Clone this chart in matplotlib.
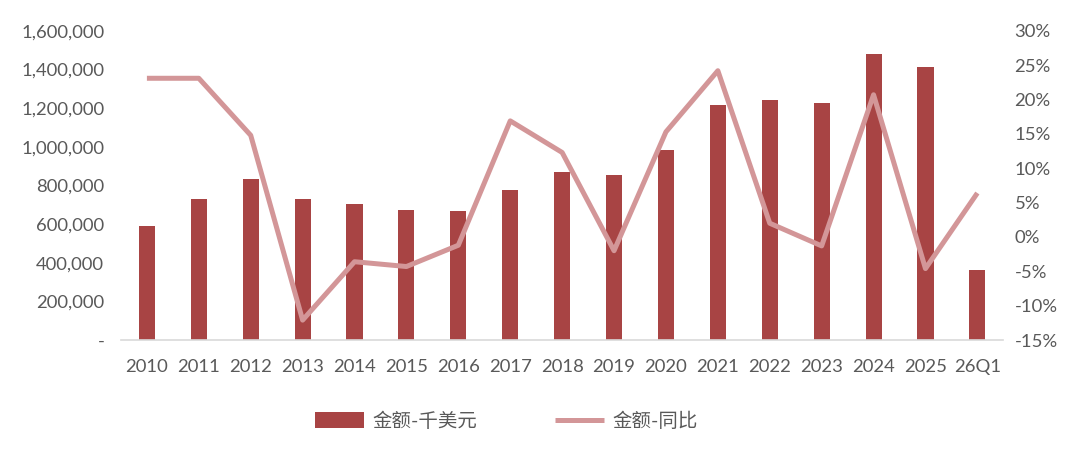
import numpy as np
import matplotlib.pyplot as plt
from matplotlib.ticker import FuncFormatter, FixedLocator

plt.rcParams['font.family'] = ['Lato', 'Noto Sans CJK SC', 'DejaVu Sans']

"""data"""

categories = ['2010', '2011', '2012', '2013', '2014', '2015', '2016', '2017',
              '2018', '2019', '2020', '2021', '2022', '2023', '2024', '2025', '26Q1']
amount = [592000, 728000, 835000, 731000, 705000, 675000, 666000, 779000,
          872000, 855000, 982000, 1218000, 1244000, 1227000, 1481000, 1413000, 361000]
yoy = [23.1, 23.1, 14.8, -12.1, -3.6, -4.3, -1.2, 16.9,
       12.3, -2.0, 15.3, 24.2, 2.0, -1.3, 20.7, -4.6, 6.4]

bar_label = '金额-千美元'
line_label = '金额-同比'

"""graph"""

text_color = '#595959'
bar_color = '#A84444'
line_color = '#D39698'

fig = plt.figure(figsize=(10.8, 4.54), dpi=100)
ax = fig.add_axes([0.112, 0.251, 0.817, 0.681])
ax2 = ax.twinx()

x = np.arange(len(categories))
bars = ax.bar(x, amount, width=0.31, color=bar_color, label=bar_label, zorder=2)
line, = ax2.plot(x, yoy, color=line_color, linewidth=3.6, label=line_label,
                 solid_capstyle='butt', zorder=3)

ax.set_xlim(-0.5, len(categories) - 0.5)
ax.set_ylim(0, 1600000)
ax.yaxis.set_major_locator(FixedLocator(np.arange(0, 1600001, 200000)))
ax.yaxis.set_major_formatter(FuncFormatter(lambda v, p: '-' if v == 0 else f'{v:,.0f}'))
ax2.set_ylim(-15, 30)
ax2.yaxis.set_major_locator(FixedLocator(np.arange(-15, 31, 5)))
ax2.yaxis.set_major_formatter(FuncFormatter(lambda v, p: f'{v:.0f}%'))

ax.set_xticks(x)
ax.set_xticklabels(categories)

for a in (ax, ax2):
    for s in ('top', 'left', 'right', 'bottom'):
        a.spines[s].set_visible(False)
    a.tick_params(length=0, labelsize=13.3, colors=text_color)
ax.spines['bottom'].set_visible(True)
ax.spines['bottom'].set_color('#D9D9D9')
ax.spines['bottom'].set_linewidth(1.2)
ax.tick_params(axis='x', pad=14)
ax.tick_params(axis='y', pad=12)
ax2.tick_params(axis='y', pad=8)

ax2.set_zorder(ax.get_zorder() + 1)
ax2.patch.set_visible(False)

fig.legend([bars, line], [bar_label, line_label], loc='center',
           bbox_to_anchor=(0.469, 0.073), ncol=2, frameon=False,
           fontsize=14, labelcolor=text_color, handlelength=2.5,
           handleheight=0.9, columnspacing=4.0, handletextpad=0.45)

fig.savefig('out.png', dpi=100)
